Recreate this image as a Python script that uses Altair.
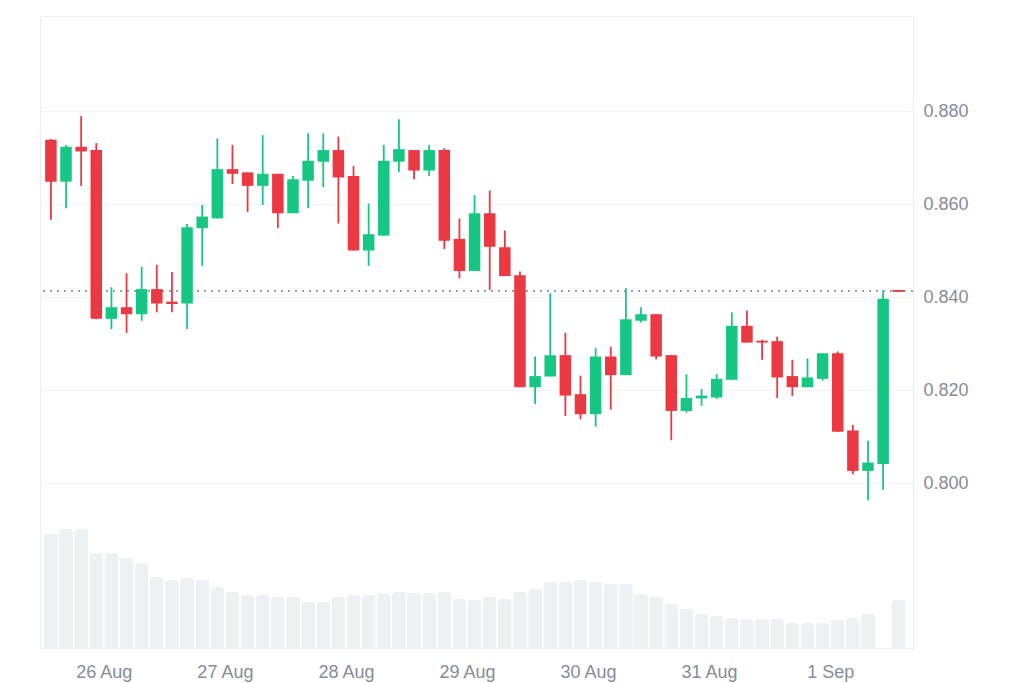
import altair as alt
import pandas as pd

# 3-hour candles, centre times (UTC)
times = pd.date_range("2024-08-25 13:30", periods=57, freq="3h", tz="UTC")

opens = [0.8738, 0.8648, 0.8723, 0.8716, 0.8353, 0.8378, 0.8363, 0.8417, 0.8390, 0.8386,
         0.8548, 0.8569, 0.8675, 0.8668, 0.8639, 0.8665, 0.8580, 0.8650, 0.8691, 0.8716,
         0.8660, 0.8500, 0.8532, 0.8691, 0.8716, 0.8672, 0.8716, 0.8525, 0.8456, 0.8580,
         0.8507, 0.8447, 0.8206, 0.8229, 0.8275, 0.8191, 0.8148, 0.8272, 0.8232, 0.8349,
         0.8363, 0.8275, 0.8155, 0.8182, 0.8184, 0.8222, 0.8338, 0.8306, 0.8305, 0.8230,
         0.8206, 0.8224, 0.8279, 0.8113, 0.8026, 0.8041, 0.8415]
highs = [0.8740, 0.8727, 0.8789, 0.8731, 0.8421, 0.8451, 0.8465, 0.8469, 0.8454, 0.8557,
         0.8598, 0.8741, 0.8727, 0.8668, 0.8748, 0.8665, 0.8660, 0.8752, 0.8752, 0.8745,
         0.8682, 0.8601, 0.8727, 0.8782, 0.8716, 0.8727, 0.8720, 0.8569, 0.8619, 0.8629,
         0.8543, 0.8455, 0.8272, 0.8408, 0.8323, 0.8231, 0.8290, 0.8293, 0.8419, 0.8378,
         0.8363, 0.8275, 0.8234, 0.8202, 0.8234, 0.8367, 0.8371, 0.8308, 0.8315, 0.8265,
         0.8268, 0.8279, 0.8283, 0.8125, 0.8091, 0.8414, 0.8415]
lows = [0.8566, 0.8591, 0.8639, 0.8352, 0.8331, 0.8323, 0.8349, 0.8367, 0.8367, 0.8331,
        0.8467, 0.8569, 0.8643, 0.8583, 0.8598, 0.8548, 0.8580, 0.8591, 0.8636, 0.8558,
        0.8500, 0.8467, 0.8532, 0.8669, 0.8653, 0.8660, 0.8503, 0.8440, 0.8456, 0.8415,
        0.8445, 0.8206, 0.8170, 0.8229, 0.8144, 0.8137, 0.8121, 0.8158, 0.8232, 0.8345,
        0.8266, 0.8092, 0.8151, 0.8166, 0.8181, 0.8222, 0.8302, 0.8265, 0.8183, 0.8187,
        0.8206, 0.8220, 0.8110, 0.8019, 0.7963, 0.7985, 0.8411]
closes = [0.8648, 0.8723, 0.8713, 0.8353, 0.8378, 0.8363, 0.8417, 0.8386, 0.8385, 0.8550,
          0.8573, 0.8675, 0.8665, 0.8639, 0.8665, 0.8580, 0.8653, 0.8693, 0.8716, 0.8657,
          0.8500, 0.8535, 0.8693, 0.8718, 0.8672, 0.8716, 0.8521, 0.8456, 0.8580, 0.8508,
          0.8445, 0.8206, 0.8230, 0.8275, 0.8188, 0.8148, 0.8272, 0.8232, 0.8352, 0.8363,
          0.8272, 0.8155, 0.8183, 0.8188, 0.8224, 0.8338, 0.8302, 0.8302, 0.8227, 0.8206,
          0.8227, 0.8279, 0.8110, 0.8026, 0.8044, 0.8396, 0.8411]
# volume (millions)
volumes = [11.4, 11.9, 11.9, 9.5, 9.5, 9.0, 8.5, 7.1, 6.8, 7.0,
           6.8, 6.1, 5.6, 5.3, 5.3, 5.1, 5.1, 4.6, 4.6, 5.1,
           5.3, 5.3, 5.5, 5.6, 5.5, 5.5, 5.6, 4.9, 4.8, 5.1,
           4.9, 5.6, 5.9, 6.6, 6.6, 6.8, 6.6, 6.4, 6.4, 5.4,
           5.1, 4.4, 3.9, 3.4, 3.2, 3.0, 2.9, 2.9, 2.9, 2.5,
           2.5, 2.5, 2.8, 3.0, 3.4, 0.05, 4.8]
last_price = 0.8413

df = pd.DataFrame({
    "t": times.strftime("%Y-%m-%dT%H:%M:%SZ"),
    "open": opens, "high": highs, "low": lows, "close": closes, "vol": volumes,
    "last": [last_price] * len(opens),
})
df["dir"] = ["up" if c >= o else "down" for o, c in zip(opens, closes)]

GREEN = "#16c784"
RED = "#ea3943"
GRAY = "#858c9a"

x_scale = alt.Scale(
    type="utc",
    domain=[alt.DateTime(year=2024, month=8, date=25, hours=12, minutes=20, utc=True),
            alt.DateTime(year=2024, month=9, date=1, hours=15, minutes=26, utc=True)],
)
x_axis = alt.Axis(
    values=[alt.DateTime(year=2024, month=8 if d >= 26 else 9, date=d, utc=True)
            for d in [26, 27, 28, 29, 30, 31, 1]],
    labelExpr="utcFormat(datum.value, '%-d %b')",
    grid=False, ticks=False, domain=False, labelPadding=15, labelFlush=False,
)
x_enc = alt.X("t:T", title=None, scale=x_scale, axis=x_axis)

color_enc = alt.Color("dir:N", scale=alt.Scale(domain=["up", "down"], range=[GREEN, RED]), legend=None)

price_scale = alt.Scale(domain=[0.76452, 0.90043], nice=False, zero=False)
price_axis = alt.Axis(orient="right", values=[0.80, 0.82, 0.84, 0.86, 0.88], format=".3f",
                      ticks=False, domain=False, grid=True, labelPadding=10, title=None)

base = alt.Chart(df)

volume = base.mark_bar(size=14, cornerRadiusTopLeft=3, cornerRadiusTopRight=3).encode(
    x=x_enc,
    y=alt.Y("vol:Q", scale=alt.Scale(domain=[0, 63.2], nice=False), axis=None),
    color=alt.value("#eef1f4"),
)

last_line = base.mark_rule(color="#9aa0aa", strokeWidth=1.5, strokeDash=[1.5, 5.5]).encode(
    y=alt.Y("last:Q", scale=price_scale, axis=price_axis),
)

wicks = base.mark_rule(strokeWidth=1.8, clip=True).encode(
    x=x_enc,
    y=alt.Y("low:Q", scale=price_scale, axis=None),
    y2="high:Q",
    color=color_enc,
)

bodies = base.mark_bar(size=11.5, clip=True).encode(
    x=x_enc,
    y=alt.Y("open:Q", scale=price_scale, axis=None),
    y2="close:Q",
    color=color_enc,
)

chart = alt.layer(volume, last_line, wicks, bodies).resolve_scale(y="independent").properties(
    width=873,
    height=632,
    autosize=alt.AutoSizeParams(type="none"),
    padding={"left": 32, "top": 8, "right": 90, "bottom": 34},
    background="white",
).configure_view(
    stroke="#eceff2", strokeWidth=1,
).configure_axis(
    labelFont="Liberation Sans", labelFontSize=18, labelColor=GRAY, gridColor="#f1f3f5", gridWidth=1,
)

chart.save("out.html", embed_options={"renderer": "svg", "actions": False})
